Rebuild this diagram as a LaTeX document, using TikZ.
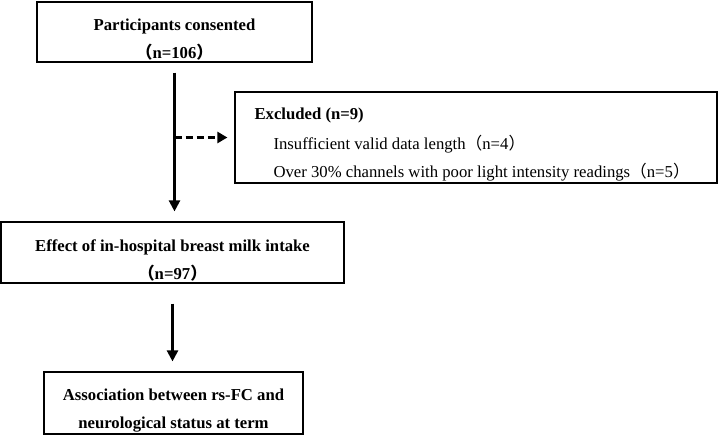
\documentclass[tikz,border=0pt]{standalone}
\usepackage{fontspec}
\setmainfont{Liberation Serif}
\newfontfamily\cjk{Noto Sans CJK SC}
\usetikzlibrary{arrows.meta}

\newcommand{\lpar}{{\cjk （}}
\newcommand{\rpar}{{\cjk ）}}
\newcommand{\lead}{\rule{0pt}{27pt}}

\begin{document}
\begin{tikzpicture}[x=1pt, y=-1pt,
    every node/.style={font=\fontsize{16.7}{28}\selectfont},
    stagebox/.style={draw, line width=1.2pt, align=center, inner sep=0pt,
      font=\bfseries\fontsize{16.7}{28}\selectfont},
    exbox/.style={draw, line width=1.2pt, inner sep=0pt},
    flow/.style={line width=2.4pt, -{Triangle[length=11pt, width=11pt]}},
    skip/.style={line width=2.4pt, dash pattern=on 7pt off 4pt, -{Triangle[length=10pt, width=11pt]}}]
\useasboundingbox (0,0) rectangle (720,436);

% main stages
\node[stagebox, minimum width=275pt, minimum height=60pt] (consent) at (174.5,32)
  {\lead Participants consented\\ \lpar n=106\rpar};
\node[stagebox, minimum width=343pt, minimum height=61pt] (intake) at (172.5,252.5)
  {\lead Effect of in-hospital breast milk intake\\ \lpar n=97\rpar};
\node[stagebox, minimum width=259pt, minimum height=62pt] (assoc) at (173.5,403)
  {\lead Association between rs-FC and\\ neurological status at term};

% exclusions
\node[exbox, minimum width=482pt, minimum height=91pt] (excl) at (476,137.5) {};
\node[anchor=base west, font=\bfseries\fontsize{16.7}{28}\selectfont] (exhead) at (251,119) {Excluded (n=9)};
\node[anchor=base west] (exone) at (270,149) {Insufficient valid data length\lpar n=4\rpar};
\node[anchor=base west] (extwo) at (270,177) {Over 30\% channels with poor light intensity readings\lpar n=5\rpar};

% connectors
\coordinate (split) at (consent.south |- excl.west);
\draw[flow, shorten <=10pt, shorten >=10pt] (consent.south) -- (consent.south |- intake.north);
\draw[skip, shorten >=7pt] (split) -- (excl.west);
\draw[flow, shorten <=20pt, shorten >=10pt] (intake.south) -- (intake.south |- assoc.north);
\end{tikzpicture}
\end{document}
